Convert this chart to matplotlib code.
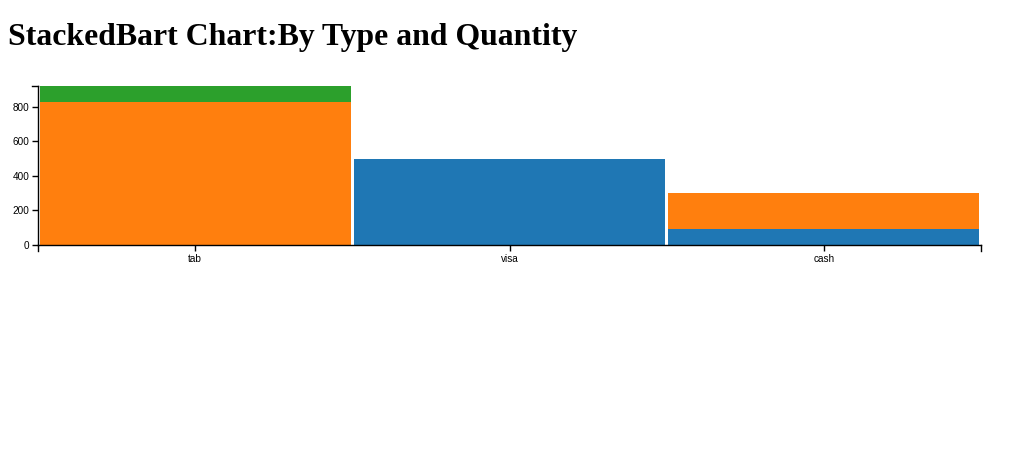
import matplotlib
matplotlib.use("Agg")
import matplotlib.pyplot as plt
import numpy as np

# Data
types = ["tab", "visa", "cash"]
series_a = [0, 500, 95]      # blue
series_b = [830, 0, 205]     # orange
series_c = [90, 0, 0]        # green
colors = ["#1f77b4", "#ff7f0e", "#2ca02c"]
y_ticks = [0, 200, 400, 600, 800]

W, H = 1030, 449
fig = plt.figure(figsize=(W / 100, H / 100), dpi=100)

# axes box in pixels: x 38..981, y 86..245
x0, x1, ytop, ybot = 38, 981, 86, 245
ax = fig.add_axes([x0 / W, (H - ybot) / H, (x1 - x0) / W, (ybot - ytop) / H])

x = np.arange(len(types))
bottom = np.zeros(len(types))
for vals, c in zip([series_a, series_b, series_c], colors):
    ax.bar(x, vals, width=0.99, bottom=bottom, color=c, linewidth=0)
    bottom += np.array(vals)

ymax = bottom.max()
ax.set_xlim(-0.5, len(types) - 0.5)
ax.set_ylim(0, ymax)

for s in ["top", "right"]:
    ax.spines[s].set_visible(False)
for s in ["left", "bottom"]:
    ax.spines[s].set_linewidth(1)

tick_font = dict(family="Liberation Sans", size=7.2)
ax.set_xticks(x)
ax.set_xticklabels(types, **tick_font)
ax.set_yticks(y_ticks)
ax.set_yticklabels([str(v) for v in y_ticks], **tick_font)
ax.tick_params(length=4.3, width=1, pad=2)

# d3-style outer ticks at domain ends
ax.plot([-0.5, -0.5], [0, -0.04], transform=ax.get_xaxis_transform(), color="k", lw=1, clip_on=False)
ax.plot([len(types) - 0.5] * 2, [0, -0.04], transform=ax.get_xaxis_transform(), color="k", lw=1, clip_on=False)
ax.plot([0, -0.0065], [ymax, ymax], transform=ax.get_yaxis_transform(), color="k", lw=1, clip_on=False)

fig.text(8 / W, 1 - 45 / H, "StackedBart Chart:By Type and Quantity",
         family="Liberation Serif", weight="bold", size=22.9, ha="left", va="baseline")

fig.savefig("out.png", dpi=100)
